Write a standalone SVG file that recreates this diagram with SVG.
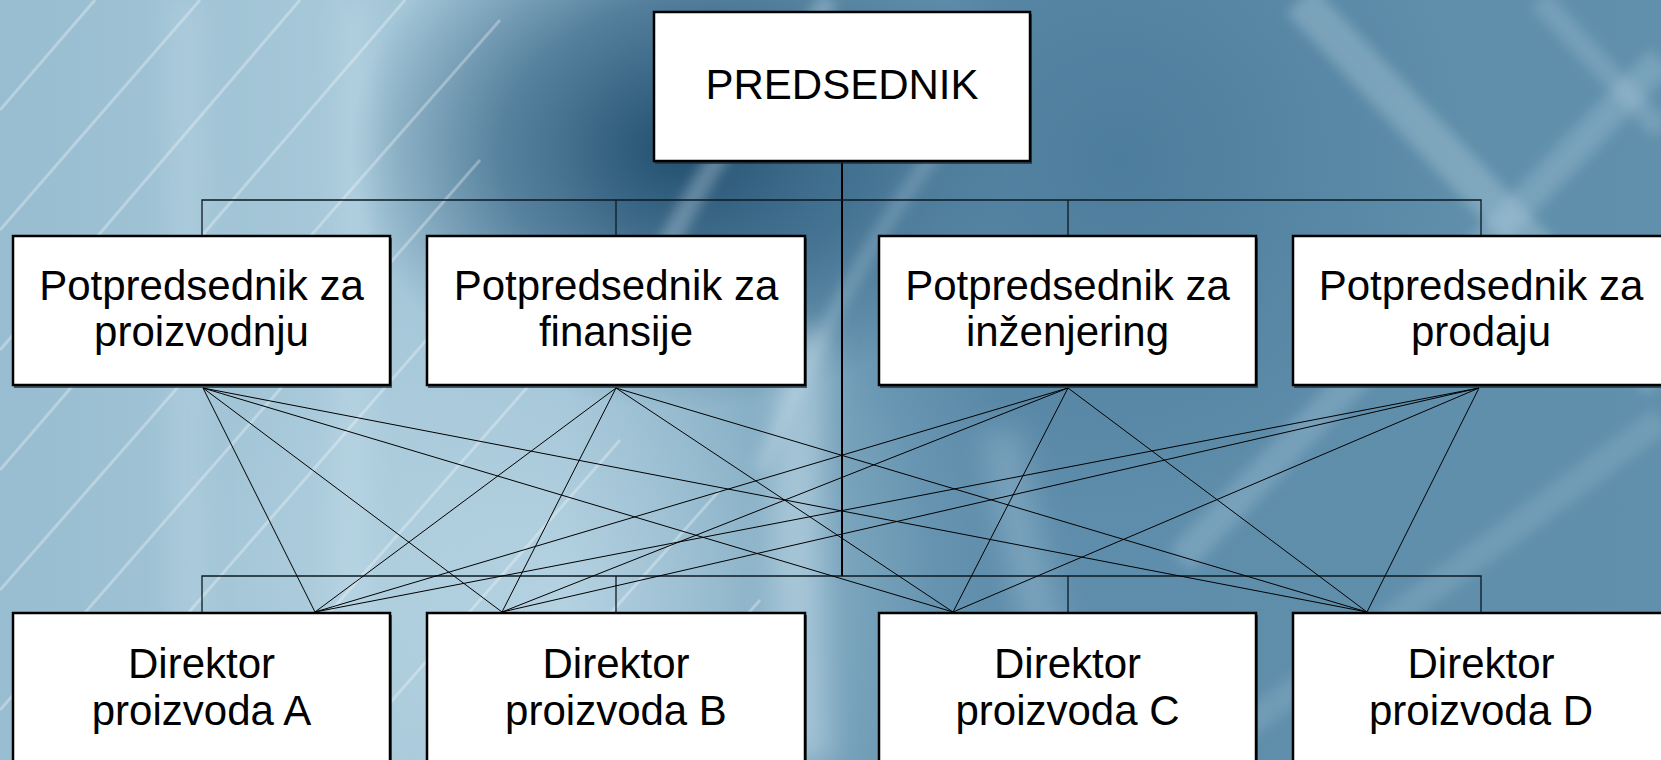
<svg xmlns="http://www.w3.org/2000/svg" width="1661" height="760" viewBox="0 0 1661 760">
  <defs>
    <linearGradient id="bgBase" x1="0" y1="0" x2="1" y2="0">
      <stop offset="0" stop-color="#98bdd0"/>
      <stop offset="0.2" stop-color="#a6c8d9"/>
      <stop offset="0.34" stop-color="#9dc1d4"/>
      <stop offset="0.46" stop-color="#7aa5bd"/>
      <stop offset="0.6" stop-color="#5e8dab"/>
      <stop offset="1" stop-color="#6190ac"/>
    </linearGradient>
    <radialGradient id="darkCore" cx="0" cy="0" r="1" gradientUnits="userSpaceOnUse" gradientTransform="translate(680 150) scale(330 260)">
      <stop offset="0" stop-color="#1d4a6a" stop-opacity="0.95"/>
      <stop offset="0.55" stop-color="#28577a" stop-opacity="0.6"/>
      <stop offset="1" stop-color="#2a5878" stop-opacity="0"/>
    </radialGradient>
    <radialGradient id="darkRight" cx="1120" cy="160" r="360" gradientUnits="userSpaceOnUse">
      <stop offset="0" stop-color="#3f6f8f" stop-opacity="0.55"/>
      <stop offset="1" stop-color="#3f6f8f" stop-opacity="0"/>
    </radialGradient>
    <radialGradient id="lightLow" cx="560" cy="600" r="380" gradientUnits="userSpaceOnUse">
      <stop offset="0" stop-color="#cfe5f0" stop-opacity="0.45"/>
      <stop offset="1" stop-color="#cfe5f0" stop-opacity="0"/>
    </radialGradient>
    <filter id="soft" x="-10%" y="-10%" width="120%" height="120%">
      <feGaussianBlur stdDeviation="6"/>
    </filter>
    <filter id="softer" x="-10%" y="-10%" width="120%" height="120%">
      <feGaussianBlur stdDeviation="14"/>
    </filter>
    <style>
      .box { fill: #ffffff; stroke: #000000; stroke-width: 2.5; }
      .shadow { fill: #1b2a33; opacity: 0.7; }
      .label { font-family: "Liberation Sans", Arial, Helvetica, sans-serif; font-size: 42px; fill: #000000; text-anchor: middle; }
      .bus { stroke: #0d1a22; stroke-width: 1.3; fill: none; }
      .trunk { stroke: #000000; stroke-width: 2; fill: none; }
      .link { stroke: #000000; stroke-width: 1; fill: none; }
      .streak { stroke: #ffffff; stroke-opacity: 0.3; stroke-width: 3; fill: none; }
      .band { stroke: #d9ebf4; fill: none; }
    </style>
  </defs>

  <!-- backdrop -->
  <g id="background">
    <rect x="0" y="0" width="1661" height="760" fill="url(#bgBase)"/>
    <rect x="0" y="0" width="1661" height="760" fill="url(#darkCore)"/>
    <rect x="0" y="0" width="1661" height="760" fill="url(#darkRight)"/>
    <rect x="0" y="0" width="1661" height="760" fill="url(#lightLow)"/>
    <!-- soft vertical glow bands -->
    <g filter="url(#softer)">
      <path class="band" d="M185 0 L190 760" stroke-width="30" stroke-opacity="0.22"/>
      <path class="band" d="M355 0 L350 760" stroke-width="26" stroke-opacity="0.28"/>
      <path class="band" d="M805 330 C795 450 795 600 805 760" stroke-width="50" stroke-opacity="0.4"/>
      <path class="band" d="M1000 430 C1020 560 1050 660 1090 760" stroke-width="40" stroke-opacity="0.22"/>
    </g>
    <!-- crossing light bands, right side -->
    <g filter="url(#soft)">
      <path class="band" d="M1300 0 L1661 380" stroke-width="38" stroke-opacity="0.26"/>
      <path class="band" d="M1661 60 L1180 560" stroke-width="30" stroke-opacity="0.2"/>
      <path class="band" d="M1540 0 L1661 130" stroke-width="22" stroke-opacity="0.18"/>
      <path class="band" d="M1661 420 L1200 760" stroke-width="26" stroke-opacity="0.14"/>
      <!-- sweeping curves near the top centre -->
      <path class="band" d="M830 0 C770 80 700 170 640 300" stroke-width="20" stroke-opacity="0.3"/>
      <path class="band" d="M960 120 C880 220 820 330 760 470" stroke-width="16" stroke-opacity="0.2"/>
    </g>
    <!-- fine diagonal streaks, left side -->
    <g>
      <path class="streak" d="M0 110 L95 0"/>
      <path class="streak" d="M0 230 L200 0"/>
      <path class="streak" d="M0 350 L300 0"/>
      <path class="streak" d="M0 470 L405 0"/>
      <path class="streak" d="M0 590 L500 20"/>
      <path class="streak" d="M0 710 L480 160"/>
      <path class="streak" d="M60 760 L470 290"/>
      <path class="streak" d="M200 760 L560 350"/>
      <path class="streak" d="M340 760 L620 440"/>
      <path class="streak" d="M480 760 L720 490"/>
      <path class="streak" d="M620 760 L760 600"/>
    </g>
  </g>

  <!-- connectors -->
  <g id="connectors">
    <path class="trunk" d="M842 162 L842 576"/>
    <path class="bus" d="M202 236 L202 200 L1481 200 L1481 236"/>
    <path class="bus" d="M616 200 L616 236"/>
    <path class="bus" d="M1068 200 L1068 236"/>
    <path class="bus" d="M202 613 L202 576 L1481 576 L1481 613"/>
    <path class="bus" d="M616 576 L616 613"/>
    <path class="bus" d="M1068 576 L1068 613"/>
    <!-- every vice-president links to every product director -->
    <path class="link" d="M203 388 L315 612"/>
    <path class="link" d="M203 388 L502 612"/>
    <path class="link" d="M203 388 L953 612"/>
    <path class="link" d="M203 388 L1367 612"/>
    <path class="link" d="M616 388 L315 612"/>
    <path class="link" d="M616 388 L502 612"/>
    <path class="link" d="M616 388 L953 612"/>
    <path class="link" d="M616 388 L1367 612"/>
    <path class="link" d="M1068 388 L315 612"/>
    <path class="link" d="M1068 388 L502 612"/>
    <path class="link" d="M1068 388 L953 612"/>
    <path class="link" d="M1068 388 L1367 612"/>
    <path class="link" d="M1479 388 L315 612"/>
    <path class="link" d="M1479 388 L502 612"/>
    <path class="link" d="M1479 388 L953 612"/>
    <path class="link" d="M1479 388 L1367 612"/>
  </g>

  <!-- top -->
  <g id="predsednik">
    <rect class="shadow" x="655" y="14" width="377" height="150"/>
    <rect class="box" x="654" y="12" width="376" height="149"/>
    <text class="label" x="842" y="99">PREDSEDNIK</text>
  </g>

  <!-- vice-presidents -->
  <g id="vp-proizvodnja">
    <rect class="shadow" x="14" y="238" width="378" height="150"/>
    <rect class="box" x="13" y="236" width="377" height="149"/>
    <text class="label" x="201.5" y="300">Potpredsednik za</text>
    <text class="label" x="201.5" y="346">proizvodnju</text>
  </g>
  <g id="vp-finansije">
    <rect class="shadow" x="428" y="238" width="379" height="150"/>
    <rect class="box" x="427" y="236" width="378" height="149"/>
    <text class="label" x="616" y="300">Potpredsednik za</text>
    <text class="label" x="616" y="346">finansije</text>
  </g>
  <g id="vp-inzenjering">
    <rect class="shadow" x="880" y="238" width="378" height="150"/>
    <rect class="box" x="879" y="236" width="377" height="149"/>
    <text class="label" x="1067.5" y="300">Potpredsednik za</text>
    <text class="label" x="1067.5" y="346">inženjering</text>
  </g>
  <g id="vp-prodaja">
    <rect class="shadow" x="1294" y="238" width="378" height="150"/>
    <rect class="box" x="1293" y="236" width="377" height="149"/>
    <text class="label" x="1481" y="300">Potpredsednik za</text>
    <text class="label" x="1481" y="346">prodaju</text>
  </g>

  <!-- product directors -->
  <g id="direktor-a">
    <rect class="shadow" x="14" y="615" width="378" height="150"/>
    <rect class="box" x="13" y="613" width="377" height="149"/>
    <text class="label" x="201.5" y="678">Direktor</text>
    <text class="label" x="201.5" y="725">proizvoda A</text>
  </g>
  <g id="direktor-b">
    <rect class="shadow" x="428" y="615" width="379" height="150"/>
    <rect class="box" x="427" y="613" width="378" height="149"/>
    <text class="label" x="616" y="678">Direktor</text>
    <text class="label" x="616" y="725">proizvoda B</text>
  </g>
  <g id="direktor-c">
    <rect class="shadow" x="880" y="615" width="378" height="150"/>
    <rect class="box" x="879" y="613" width="377" height="149"/>
    <text class="label" x="1067.5" y="678">Direktor</text>
    <text class="label" x="1067.5" y="725">proizvoda C</text>
  </g>
  <g id="direktor-d">
    <rect class="shadow" x="1294" y="615" width="378" height="150"/>
    <rect class="box" x="1293" y="613" width="377" height="149"/>
    <text class="label" x="1481" y="678">Direktor</text>
    <text class="label" x="1481" y="725">proizvoda D</text>
  </g>
</svg>
